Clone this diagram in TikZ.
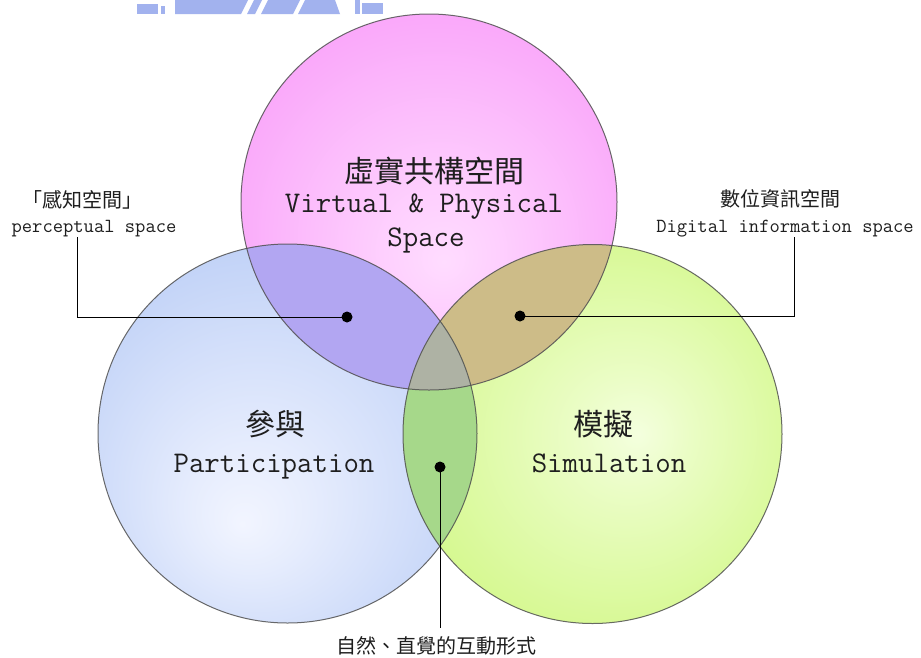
\documentclass[tikz,border=0pt]{standalone}
\usepackage{fontspec}
\newfontfamily\cjk{Noto Sans CJK TC}
\definecolor{magin}{HTML}{FFDCFF}
\definecolor{magout}{HTML}{F686F6}
\definecolor{bluein}{HTML}{F2F5FF}
\definecolor{blueout}{HTML}{A2BCF2}
\definecolor{grnin}{HTML}{F4FFDE}
\definecolor{grnout}{HTML}{C2F45E}
\definecolor{mbcol}{HTML}{B2A6F2}
\definecolor{mgcol}{HTML}{CDBC88}
\definecolor{bgcol}{HTML}{A6D88A}
\definecolor{mbgcol}{HTML}{AEB2A4}
\definecolor{ringcol}{HTML}{505050}
\definecolor{txtcol}{HTML}{1E1E1E}
\definecolor{wmcol}{HTML}{A2B2EE}
\pgfdeclareradialshading{magshade}{\pgfpoint{2bp}{-8bp}}{color(0bp)=(magin); color(8bp)=(magin!85!magout); color(46bp)=(magout)}
\pgfdeclareradialshading{blueshade}{\pgfpoint{-6bp}{-12bp}}{color(0bp)=(bluein); color(8bp)=(bluein!85!blueout); color(48bp)=(blueout)}
\pgfdeclareradialshading{grnshade}{\pgfpoint{6bp}{0bp}}{color(0bp)=(grnin); color(8bp)=(grnin!80!grnout); color(46bp)=(grnout)}
\begin{document}
\begin{tikzpicture}[x=1pt,y=-1pt,
  venn/.style={circle, inner sep=0pt, minimum size=#1},
  ring/.style={draw=ringcol, line width=1pt, draw opacity=0.85},
  dotnode/.style={circle, fill=black, inner sep=0pt, minimum size=11pt},
  lead/.style={draw=black, line width=1pt},
  bigtt/.style={font=\fontsize{30}{32}\selectfont\ttfamily, text=txtcol, inner sep=0pt},
  bigcjk/.style={font=\fontsize{30}{32}\selectfont\cjk, text=txtcol, inner sep=0pt},
  smalltt/.style={font=\fontsize{20}{22}\selectfont\ttfamily, text=txtcol, inner sep=0pt},
  smallcjk/.style={font=\fontsize{20}{22}\selectfont\cjk, text=txtcol, inner sep=0pt},
  wm/.style={fill=wmcol}]
\useasboundingbox[fill=white] (0,0) rectangle (921,657);
% watermark fragment at the top
\fill[wm] (137,4) rectangle (158,14);
\fill[wm] (161,6) rectangle (165,14);
\fill[wm] (175,0) -- (248,0) -- (241,14) -- (175,14) -- cycle;
\fill[wm] (254,0) -- (262,0) -- (255,14) -- (247,14) -- cycle;
\fill[wm] (268,0) -- (300,0) -- (293,14) -- (261,14) -- cycle;
\fill[wm] (305,0) -- (335,0) -- (340,14) -- (298,14) -- cycle;
\fill[wm] (355,0) rectangle (360,14);
\fill[wm] (362,3) rectangle (383,14);
% circles
\node[venn=379pt, shade, shading=blueshade] (B) at (287.5,433.5) {};
\node[venn=379pt, shade, shading=grnshade] (G) at (592.5,434) {};
\node[venn=376pt, shade, shading=magshade] (M) at (429,202) {};
% overlaps
\begin{scope}
  \clip (B.center) circle[radius=189.5pt];
  \fill[mbcol] (M.center) circle[radius=188pt];
\end{scope}
\begin{scope}
  \clip (G.center) circle[radius=189.5pt];
  \fill[mgcol] (M.center) circle[radius=188pt];
\end{scope}
\begin{scope}
  \clip (G.center) circle[radius=189.5pt];
  \fill[bgcol] (B.center) circle[radius=189.5pt];
\end{scope}
\begin{scope}
  \clip (G.center) circle[radius=189.5pt];
  \clip (B.center) circle[radius=189.5pt];
  \fill[mbgcol] (M.center) circle[radius=188pt];
\end{scope}
% outlines
\draw[ring] (B.center) circle[radius=189.5pt];
\draw[ring] (G.center) circle[radius=189.5pt];
\draw[ring] (M.center) circle[radius=188pt];
% circle labels
\node[bigcjk] (mcn) at (434,171) {虛實共構空間};
\node[bigtt, anchor=base] (men1) at (424,212) {Virtual \& Physical};
\node[bigtt, anchor=base] (men2) at (426,246) {Space};
\node[bigcjk] (bcn) at (275,424) {參與};
\node[bigtt, anchor=base] (ben) at (274,472) {Participation};
\node[bigcjk] (gcn) at (603,424) {模擬};
\node[bigtt, anchor=base] (gen) at (609,472) {Simulation};
% side labels
\node[smallcjk] (lcn) at (82,200) {「感知空間」};
\node[smalltt, anchor=base] (len) at (94,232) {perceptual space};
\node[smallcjk] (rcn) at (780,199) {數位資訊空間};
\node[smalltt, anchor=base] (ren) at (785,232) {Digital information space};
\node[smallcjk] (bot) at (436,646) {自然、直覺的互動形式};
% dots and leaders
\node[dotnode] (dL) at (347,317) {};
\node[dotnode] (dR) at (520,316) {};
\node[dotnode] (dB) at (440,467) {};
\coordinate (cL) at (77,237);
\coordinate (cR) at (794,237);
\coordinate (cB) at (440,628);
\draw[lead] (dL.center) -| (cL);
\draw[lead] (dR.center) -| (cR);
\draw[lead] (dB.center) -- (cB);
\end{tikzpicture}
\end{document}
